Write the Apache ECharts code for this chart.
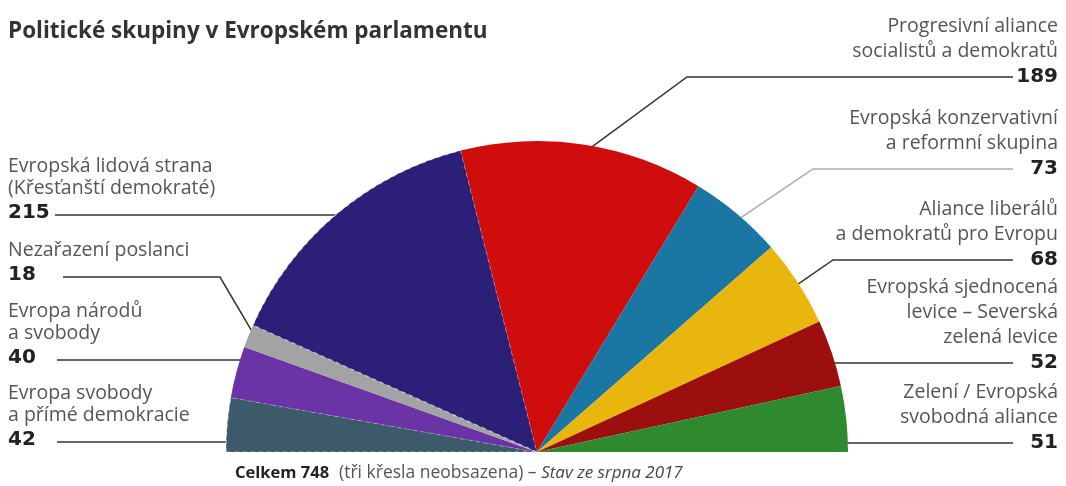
<!DOCTYPE html>
<html>
<head>
<meta charset="utf-8">
<script src="https://cdn.jsdelivr.net/npm/echarts@6/dist/echarts.min.js"></script>
<style>
html,body{margin:0;padding:0;background:#fff;}
#chart{width:1066px;height:486px;}
</style>
</head>
<body>
<div id="chart"></div>
<script>
// ---- data ----
const groups = [
  'Evropa svobody\na přímé demokracie',
  'Evropa národů\na svobody',
  'Nezařazení poslanci',
  'Evropská lidová strana\n(Křesťanští demokraté)',
  'Progresivní aliance\nsocialistů a demokratů',
  'Evropská konzervativní\na reformní skupina',
  'Aliance liberálů\na demokratů pro Evropu',
  'Evropská sjednocená\nlevice – Severská\nzelená levice',
  'Zelení / Evropská\nsvobodná aliance'
];
const seats = [42, 40, 18, 215, 189, 73, 68, 52, 51];
const titleText = 'Politické skupiny v Evropském parlamentu';
const totalText = 'Celkem 748';
const noteText = '(tři křesla neobsazena) – ';
const dateText = 'Stav ze srpna 2017';

// ---- styles / layout ----
const colors = ['#3c5a6a', '#6a33a6', '#a3a3a3', '#2b1f78', '#cf0d0d', '#1a76a3', '#e8b60c', '#9c0f0f', '#2f8a2f'];
const CX = 537, CY = 452, R = 311;
const side = ['L', 'L', 'L', 'L', 'R', 'R', 'R', 'R', 'R'];
const rowY = [442, 360, 277, 215, 77, 169, 260, 363, 443];
const anchorT = [null, null, 0.69, null, 0.49, 0.52, 0.52, null, null];
const anchorR = [0.946, 0.948, 0.99, 0.995, 0.96, 0.96, 0.95, 0.92, 0.93];
const elbowX = [null, null, 220, null, 687, 813, 833, null, null];
const endX = [57, 57, 63, 55, 1013, 1013, 1013, 1013, 1013];
const lineColors = ['#333', '#333', '#333', '#333', '#333', '#aaa', '#333', '#333', '#333'];

const total = seats.reduce((a, b) => a + b, 0);

function anchorPoint(i) {
  const r = anchorR[i] * R;
  if (anchorT[i] === null) {
    const dy = CY - rowY[i];
    const dx = Math.sqrt(Math.max(r * r - dy * dy, 0));
    return [side[i] === 'L' ? CX - dx : CX + dx, rowY[i]];
  }
  let before = 0;
  for (let k = 0; k < i; k++) before += seats[k];
  const frac = (before + anchorT[i] * seats[i]) / total; // 0 = left, 1 = right
  const a = Math.PI * (1 - frac);
  return [CX + r * Math.cos(a), CY - r * Math.sin(a)];
}

const chart = echarts.init(document.getElementById('chart'));
const option = {
  backgroundColor: '#fff',
  animation: false,
  title: [{
    text: titleText,
    left: 3, top: 15,
    textStyle: { fontFamily: 'Open Sans', fontWeight: 'bold', fontSize: 22.5, color: '#333' }
  }, {
    text: '{b|' + totalText + '}  {n|' + noteText + '}{i|' + dateText + '}',
    left: 230, top: 459,
    textStyle: {
      fontWeight: 'normal',
      rich: {
        b: { fontFamily: 'Open Sans', fontWeight: 'bold', fontSize: 16.5, color: '#222' },
        n: { fontFamily: 'Open Sans', fontWeight: 'normal', fontSize: 17.5, color: '#555' },
        i: { fontFamily: 'Open Sans', fontWeight: 'normal', fontStyle: 'italic', fontSize: 17, color: '#444' }
      }
    }
  }],
  series: [{
    type: 'pie',
    center: [CX, CY],
    radius: [0, R],
    startAngle: 180,
    endAngle: 0,
    clockwise: true,
    avoidLabelOverlap: false,
    data: groups.map((g, i) => ({
      name: g,
      value: seats[i],
      itemStyle: (i === 0 || i === 3) ? {
        color: colors[i], borderColor: 'rgba(255,255,255,0.55)', borderWidth: 1.2, borderType: [4, 4]
      } : { color: colors[i] },
      labelLine: { lineStyle: { color: lineColors[i] } }
    })),
    label: {
      show: true,
      position: 'outside',
      formatter: function (p) {
        const s = side[p.dataIndex];
        const lines = p.name.split('\n').map(t => '{n' + s + '|' + t + '}');
        return lines.join('\n') + '\n{v' + s + '|' + p.value + '}';
      },
      rich: {
        nL: { fontFamily: 'Open Sans', fontSize: 19.5, color: '#555', lineHeight: 22, align: 'left' },
        vL: { fontFamily: 'DejaVu Sans', fontWeight: 'bold', fontSize: 20, color: '#222', lineHeight: 28, align: 'left' },
        nR: { fontFamily: 'Open Sans', fontSize: 19.5, color: '#555', lineHeight: 25, align: 'right' },
        vR: { fontFamily: 'DejaVu Sans', fontWeight: 'bold', fontSize: 20, color: '#222', lineHeight: 26, align: 'right' }
      }
    },
    labelLine: { show: true, smooth: false, lineStyle: { color: '#333', width: 1.5 } },
    labelLayout: function (params) {
      const i = params.dataIndex;
      const a = anchorPoint(i);
      const mid = elbowX[i] === null ? [a[0], rowY[i]] : [elbowX[i], rowY[i]];
      const isL = side[i] === 'L';
      return {
        x: isL ? 8 : 1058,
        y: rowY[i] + (isL ? 12 : 13),
        align: isL ? 'left' : 'right',
        verticalAlign: 'bottom',
        labelLinePoints: [a, mid, [endX[i], rowY[i]]]
      };
    }
  }]
};
chart.setOption(option);
</script>
</body>
</html>
